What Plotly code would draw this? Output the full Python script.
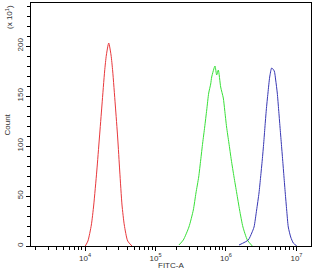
import plotly.graph_objects as go

# FITC-A intensity (x) and Count in units of x10^1 (y)
red_x = [1.01e4, 1.10e4, 1.23e4, 1.33e4, 1.47e4, 1.60e4, 1.74e4, 1.90e4, 2.01e4, 2.17e4,
         2.34e4, 2.47e4, 2.69e4, 2.91e4, 3.11e4, 3.35e4, 3.61e4, 4.03e4, 4.64e4]
red_y = [0, 5, 21, 41, 75, 108, 141, 175, 191, 203,
         191, 175, 141, 108, 75, 41, 21, 5, 0]

green_x = [2.15e5, 2.48e5, 2.98e5, 3.44e5, 3.75e5, 4.10e5, 4.38e5, 4.67e5, 4.99e5, 5.33e5,
           5.69e5, 6.07e5, 6.27e5, 6.98e5, 7.38e5, 7.78e5, 8.41e5, 9.16e5, 9.59e5, 1.02e6,
           1.10e6, 1.19e6, 1.30e6, 1.42e6, 1.56e6, 1.74e6, 2.01e6, 2.36e6]
green_y = [1, 6, 19, 36, 53, 69, 86, 103, 119, 136,
           153, 162, 169, 180, 171, 176, 159, 148, 136, 119,
           103, 86, 69, 53, 36, 19, 6, 0]

blue_x = [1.53e6, 2.07e6, 2.32e6, 2.50e6, 2.72e6, 2.94e6, 3.10e6, 3.27e6, 3.43e6, 3.57e6,
          3.73e6, 3.94e6, 4.17e6, 4.45e6, 4.84e6, 5.07e6, 5.34e6, 5.59e6, 5.84e6, 6.09e6,
          6.37e6, 6.65e6, 6.93e6, 7.26e6, 7.65e6, 8.28e6, 9.01e6, 1.01e7]
blue_y = [1, 6, 13, 19, 36, 53, 69, 86, 103, 119,
          136, 153, 169, 178, 175, 166, 153, 136, 119, 103,
          86, 69, 53, 36, 19, 9, 3, 0]

x_major = [1e4, 1e5, 1e6, 1e7]
x_major_text = ["10<sup>4</sup>", "10<sup>5</sup>", "10<sup>6</sup>", "10<sup>7</sup>"]
x_minor = [m * 10 ** e for e in range(3, 8) for m in range(2, 10)]
y_major = [0, 50, 100, 150, 200]
y_minor = list(range(0, 241, 10))

FONT = "Liberation Sans, Arial, sans-serif"
TXT = "#333333"

fig = go.Figure()
for xs, ys, col in [(red_x, red_y, "#e8383c"), (green_x, green_y, "#38e038"), (blue_x, blue_y, "#3838b4")]:
    fig.add_trace(go.Scatter(x=xs, y=ys, mode="lines", line=dict(color=col, width=1, shape="spline", smoothing=0.6),
                             showlegend=False, hoverinfo="skip"))

fig.update_layout(
    width=317, height=275,
    margin=dict(l=31, r=6, t=3, b=29),
    paper_bgcolor="white", plot_bgcolor="white",
    font=dict(family=FONT, size=8, color=TXT),
    xaxis=dict(type="log", range=[3.234, 7.206], showgrid=False, zeroline=False, automargin=False,
               showline=True, linecolor="#000000", linewidth=1, mirror=True,
               ticks="outside", ticklen=4, tickcolor="#000000",
               tickvals=x_major, ticktext=x_major_text,
               tickfont=dict(size=8, color=TXT),
               minor=dict(tickvals=x_minor, ticks="outside", ticklen=3, tickcolor="#000000")),
    yaxis=dict(range=[0, 243], showgrid=False, zeroline=False, automargin=False,
               showline=True, linecolor="#000000", linewidth=1, mirror=True,
               ticks="outside", ticklen=4, tickcolor="#000000",
               tickvals=y_major, ticktext=[str(v) for v in y_major], tickangle=-90,
               tickfont=dict(size=8, color=TXT),
               minor=dict(tickvals=y_minor, ticks="outside", ticklen=3, tickcolor="#000000")),
    annotations=[
        dict(text="FITC-A", xref="paper", yref="paper", x=0.5, y=0, yshift=-13,
             xanchor="center", yanchor="top", showarrow=False, font=dict(size=8, color=TXT)),
        dict(text="Count", xref="paper", yref="paper", x=0, y=0.5, xshift=-24,
             xanchor="center", yanchor="middle", textangle=-90, showarrow=False,
             font=dict(size=8, color=TXT)),
        dict(text="(x 10<sup>1</sup>)", xref="paper", yref="paper", x=0, y=1, xshift=-22, yshift=-14,
             xanchor="center", yanchor="middle", textangle=-90, showarrow=False,
             font=dict(size=8, color=TXT)),
    ],
)

fig.write_html("out.html")
